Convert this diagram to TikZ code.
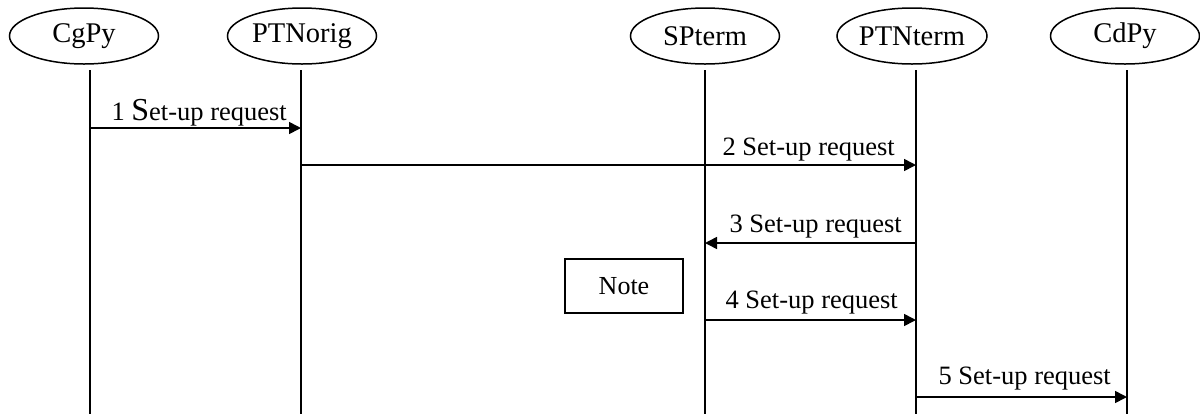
\documentclass[tikz,border=0pt]{standalone}
\usepackage{fontspec}
\setmainfont{Liberation Serif}
\usetikzlibrary{arrows.meta,shapes.geometric}
\begin{document}
\begin{tikzpicture}[x=1bp,y=-1bp,
  actor/.style={draw,ellipse,line width=1.5bp,minimum width=149bp,minimum height=56bp,inner sep=0pt,font=\fontsize{28.5bp}{30bp}\selectfont},
  life/.style={line width=1.6bp},
  msg/.style={line width=1.6bp,-{Triangle[length=12bp,width=12bp]}},
  lbl/.style={font=\fontsize{26.5bp}{28bp}\selectfont,inner sep=0pt,anchor=base east},
  notebox/.style={draw,line width=1.5bp,minimum width=118bp,minimum height=54bp,inner sep=0pt,font=\fontsize{26bp}{28bp}\selectfont}]
\useasboundingbox (0,0) rectangle (1200,414);

% actors
\node[actor] (cg) at (84,36) {CgPy};
\node[actor] (po) at (302,36) {PTNorig};
\node[actor] (sp) at (705,36) {SPterm};
\node[actor] (pt) at (912,36) {PTNterm};
\node[actor] (cd) at (1125,36) {CdPy};

% lifelines
\coordinate (cgt) at (90,70);   \coordinate (cgb) at (90,414);
\coordinate (pot) at (301,70);  \coordinate (pob) at (301,414);
\coordinate (spt) at (705,70);  \coordinate (spb) at (705,414);
\coordinate (ptt) at (916,70);  \coordinate (ptb) at (916,414);
\coordinate (cdt) at (1127,70); \coordinate (cdb) at (1127,414);
\draw[life] (cgt) -- (cgb);
\draw[life] (pot) -- (pob);
\draw[life] (spt) -- (spb);
\draw[life] (ptt) -- (ptb);
\draw[life] (cdt) -- (cdb);

% note
\node[notebox] (note) at (624,286) {Note};

% messages
\coordinate (m1a) at (90,128);  \coordinate (m1b) at (301,128);
\coordinate (m2a) at (301,165); \coordinate (m2b) at (916,165);
\coordinate (m3a) at (916,243); \coordinate (m3b) at (705,243);
\coordinate (m4a) at (705,320); \coordinate (m4b) at (916,320);
\coordinate (m5a) at (916,397); \coordinate (m5b) at (1127,397);
\draw[msg] (m1a) -- (m1b);
\draw[msg] (m2a) -- (m2b);
\draw[msg] (m3a) -- (m3b);
\draw[msg] (m4a) -- (m4b);
\draw[msg] (m5a) -- (m5b);

\node[lbl] (l1) at (287,120) {1 {\fontsize{32bp}{32bp}\selectfont S}et-up request};
\node[lbl] (l2) at (895,155) {2 Set-up request};
\node[lbl] (l3) at (902,232) {3 Set-up request};
\node[lbl] (l4) at (898,308) {4 Set-up request};
\node[lbl] (l5) at (1111,384) {5 Set-up request};
\end{tikzpicture}
\end{document}
